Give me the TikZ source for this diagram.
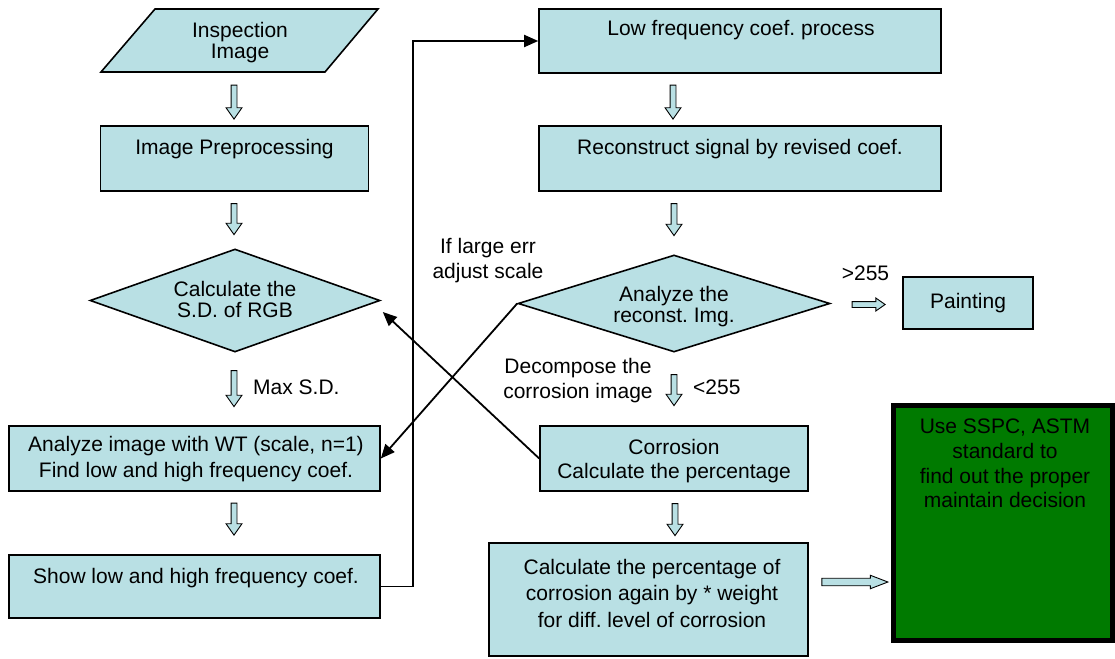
\documentclass[tikz,border=0pt]{standalone}
\usepackage{fontspec}
\setmainfont{Liberation Sans}
\usetikzlibrary{shapes.geometric,shapes.arrows,arrows.meta}
\definecolor{boxfill}{RGB}{185,224,228}
\definecolor{decide}{RGB}{0,122,0}

\tikzset{
  box/.style={rectangle, draw=black, line width=1.6pt, fill=boxfill, inner sep=0pt},
  decision/.style={diamond, draw=black, line width=1.6pt, fill=boxfill, inner sep=0pt},
  stdbox/.style={rectangle, draw=black, line width=5pt, fill=decide, inner sep=0pt},
  txt/.style={inner sep=0pt, align=center, anchor=north},
  txtone/.style={inner sep=0pt, anchor=base},
  flowdown/.style={single arrow, draw=black, line width=0.9pt, fill=boxfill,
    inner sep=2.5pt, single arrow head extend=5pt, single arrow tip angle=70,
    minimum height=#1, rotate=-90},
  flowright/.style={single arrow, draw=black, line width=0.9pt, fill=boxfill,
    minimum height=#1},
  link/.style={draw=black, line width=1.8pt, -{Triangle[length=14pt,width=12pt]}}
}

\begin{document}
\frenchspacing
\begin{tikzpicture}[x=1pt,y=-1pt,font=\fontsize{21}{25}\selectfont]
\useasboundingbox (0,0) rectangle (1115,658);

% ---- left column ----
\draw[line width=1.6pt, fill=boxfill] (155,9) -- (378,9) -- (325,72) -- (101,72) -- cycle;
\node[txt, font=\fontsize{21}{21.5}\selectfont] (insp) at (240,22) {Inspection\\Image};

\node[box, minimum width=268pt, minimum height=65pt] (prep) at (234.5,158.5) {};
\node[txtone] (prept) at (234.5,154) {Image Preprocessing};

\node[decision, minimum width=290pt, minimum height=103pt] (sd) at (235,300.5) {};
\node[txt, font=\fontsize{21}{21.3}\selectfont] (sdt) at (235,281) {Calculate the\\S.D. of RGB};

\node[box, minimum width=371pt, minimum height=65pt] (wt) at (194.5,458.5) {};
\node[txt, font=\fontsize{21}{26}\selectfont] (wtt) at (196,436) {Analyze image with WT (scale, n=1)\\Find low and high frequency coef.};

\node[box, minimum width=371pt, minimum height=63pt] (show) at (194.5,586.5) {};
\node[txtone] (showt) at (196,583) {Show low and high frequency coef.};

% ---- middle column ----
\node[box, minimum width=402pt, minimum height=64pt] (low) at (740,41) {};
\node[txtone] (lowt) at (741,36) {Low frequency coef. process};

\node[box, minimum width=402pt, minimum height=65pt] (rec) at (740,158.5) {};
\node[txtone] (rect) at (740,154) {Reconstruct signal by revised coef.};

\node[decision, minimum width=312pt, minimum height=97pt] (rc) at (674,303.5) {};
\node[txt, font=\fontsize{21}{21}\selectfont] (rct) at (674,286) {Analyze the\\reconst. Img.};

\node[box, minimum width=268pt, minimum height=65pt] (corr) at (674,458.5) {};
\node[txt, font=\fontsize{21}{24}\selectfont] (corrt) at (674,439) {Corrosion\\Calculate the percentage};

\node[box, minimum width=319pt, minimum height=113pt] (calc) at (648.5,599.5) {};
\node[txt, font=\fontsize{21}{26.5}\selectfont] (calct) at (652,559) {Calculate the percentage of\\corrosion again by * weight\\for diff. level of corrosion};

% ---- right column ----
\node[box, minimum width=130pt, minimum height=52pt] (paint) at (968,303) {};
\node[txtone] (paintt) at (968,308) {Painting};

\node[stdbox, minimum width=219pt, minimum height=235pt] (std) at (1003,523) {};
\node[txt, font=\fontsize{21}{24.7}\selectfont] (stdt) at (1005,419) {Use SSPC, ASTM\\standard to\\find out the proper\\ maintain decision};

% ---- block arrows between steps ----
\node[flowdown=34pt] (a1) at (234,100) {};
\node[flowdown=31pt] (a2) at (234,217) {};
\node[flowdown=36pt] (a3) at (234,386.5) {};
\node[flowdown=32pt] (a4) at (234,517) {};
\node[flowdown=34pt] (a5) at (673,100) {};
\node[flowdown=32pt] (a6) at (674,217.5) {};
\node[flowdown=31pt] (a7) at (674,388) {};
\node[flowdown=32pt] (a8) at (675,517.5) {};
\node[flowright=33pt, inner sep=2.5pt, single arrow head extend=3.5pt, single arrow tip angle=70] (a9) at (866.5,304.5) {};
\node[flowright=66pt, inner sep=3.3pt, single arrow head extend=3pt, single arrow tip angle=42] (a10) at (850,582) {};

% ---- arrow labels ----
\node[txtone, anchor=base west] (maxsd) at (253,394) {Max S.D.};
\node[txtone, anchor=base west] (lt) at (693,394) {<255};
\node[txtone] (gt) at (865.5,280) {>255};
\node[txt, font=\fontsize{21}{25.3}\selectfont] (large) at (488,237.7) {If large err\\adjust scale};
\node[txt, font=\fontsize{21}{25.3}\selectfont] (decomp) at (578,357.7) {Decompose the\\corrosion image};

% ---- feedback connectors ----
\draw[link] (show.east) -- ++(32,0) |- (low.west);
\draw[link] (corr.west) -- ([shift={(2,11.5)}]sd.east);
\draw[link] (rc.west) -- (wt.east);
\end{tikzpicture}
\end{document}
